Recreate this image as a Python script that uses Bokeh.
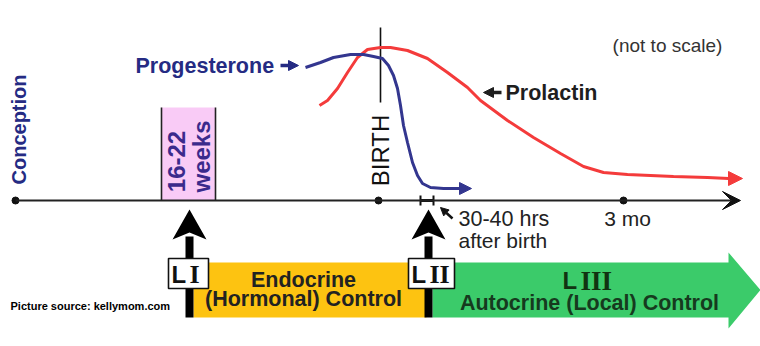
from math import pi
from bokeh.plotting import figure
from bokeh.models import Range1d, Arrow, NormalHead, VeeHead
from bokeh.core.properties import value
from bokeh.embed import file_html
from bokeh.resources import INLINE

W, H = 760, 346

# ---- data (pixel units: x right, y down) ----
# timeline milestones
milestone_names = ["Conception", "BIRTH", "3 mo"]
milestone_x = [15, 378, 623]
timeline_y = 200
timeline_end_x = 740

# Progesterone curve
prog_x = [305, 320, 333, 350, 363, 373, 382, 388, 393, 397, 400, 403, 407, 412, 417, 422, 430, 443, 462]
prog_y = [67, 62, 57, 54, 54, 56, 58, 65, 75, 88, 105, 125, 142, 162, 175, 183, 187, 188, 188]
prog_tip = (471, 188)

# Prolactin curve
prol_x = [319, 327, 337, 347, 357, 367, 380, 390, 407, 427, 447, 467, 480, 507, 533, 560, 583, 603, 627, 673, 707, 728]
prol_y = [105, 100, 88, 72, 57, 49, 47, 47, 50, 58, 72, 87, 100, 120, 137, 153, 166, 172, 174, 176, 177, 178]
prol_tip = (742, 178)

# window "16-22 weeks"
window_x = (161, 215)
window_top = 107

# 30-40 hrs marker
lact_marker_x = (420, 433)

# bands
band_top, band_bottom = 262, 317
endo_x = (193, 426)
auto_x = (432, 728)
auto_head = (252, 760, 328)

# stage arrows (LI, LII)
stage_x = [189, 428]
stage_labels = ["I", "II"]
stage_box_x = [(168, 208), (408, 454)]
stage_box_y = (258, 288)

NAVY = "#252B83"
CURVE_NAVY = "#33368F"
RED = "#F43B3B"
DARK = "#1E1E1E"


def Y(v):
    return H - v


p = figure(width=W, height=H, x_range=Range1d(0, W), y_range=Range1d(0, H),
           output_backend="svg", toolbar_location=None, min_border=0)
p.axis.visible = False
p.xgrid.visible = False
p.ygrid.visible = False
p.outline_line_color = None
p.background_fill_color = "white"
p.border_fill_color = "white"


def txt(x, y, s, size, color, style="normal", font="Liberation Sans", align="center", angle=0.0):
    p.text(x=[x], y=[Y(y)], text=[s], text_font=value(font), text_font_size=f"{size}px",
           text_font_style=style, text_color=color, text_align=align,
           text_baseline="middle", angle=angle)


# pink window
p.quad(left=[window_x[0]], right=[window_x[1]], top=[Y(window_top)], bottom=[Y(timeline_y)],
       fill_color="#F9CBF6", line_color=None)
p.segment(x0=list(window_x), y0=[Y(window_top)] * 2, x1=list(window_x), y1=[Y(timeline_y)] * 2,
          line_color="#222222", line_width=1.6)
txt(176, 161, "16-22", 24, "#3B2A8C", "bold", angle=pi / 2)
txt(201, 156, "weeks", 24, "#3B2A8C", "bold", angle=pi / 2)

# timeline
p.add_layout(Arrow(end=VeeHead(size=18, fill_color="#111111", line_color="#111111"),
                   x_start=milestone_x[0], y_start=Y(timeline_y), x_end=timeline_end_x, y_end=Y(timeline_y),
                   line_color="#222222", line_width=1.8))
p.scatter(x=milestone_x, y=[Y(timeline_y)] * 3, size=7, color="#111111")

# BIRTH line
p.segment(x0=[380], y0=[Y(27)], x1=[380], y1=[Y(102)], line_color="#111111", line_width=1.6)
txt(380, 150, milestone_names[1], 24, "#111111", angle=pi / 2)
txt(18, 129, milestone_names[0], 20, NAVY, "bold", angle=pi / 2)

# curves
p.line(x=prol_x, y=[Y(v) for v in prol_y], line_color=RED, line_width=3)
p.add_layout(Arrow(end=NormalHead(size=14, fill_color=RED, line_color=RED),
                   x_start=prol_x[-1], y_start=Y(prol_y[-1]), x_end=prol_tip[0], y_end=Y(prol_tip[1]),
                   line_color=RED, line_width=3))
p.line(x=prog_x, y=[Y(v) for v in prog_y], line_color=CURVE_NAVY, line_width=3)
p.add_layout(Arrow(end=NormalHead(size=12, fill_color=CURVE_NAVY, line_color=CURVE_NAVY),
                   x_start=prog_x[-1], y_start=Y(prog_y[-1]), x_end=prog_tip[0], y_end=Y(prog_tip[1]),
                   line_color=CURVE_NAVY, line_width=3))

# curve labels
txt(135, 65, "Progesterone", 21.5, NAVY, "bold", align="left")
p.add_layout(Arrow(end=NormalHead(size=10, fill_color=NAVY, line_color=NAVY),
                   x_start=280, y_start=Y(65), x_end=298, y_end=Y(65), line_color=NAVY, line_width=3.5))
txt(505, 92, "Prolactin", 21.5, DARK, "bold", align="left")
p.add_layout(Arrow(end=NormalHead(size=10, fill_color=DARK, line_color=DARK),
                   x_start=501, y_start=Y(92), x_end=483, y_end=Y(92), line_color=DARK, line_width=3.5))
txt(667, 45, "(not to scale)", 19, "#333333")

# 30-40 hrs marker
p.segment(x0=[lact_marker_x[0]], y0=[Y(timeline_y)], x1=[lact_marker_x[1]], y1=[Y(timeline_y)],
          line_color="#111111", line_width=3)
p.segment(x0=list(lact_marker_x), y0=[Y(195)] * 2, x1=list(lact_marker_x), y1=[Y(205)] * 2,
          line_color="#111111", line_width=2)
p.add_layout(Arrow(end=NormalHead(size=8, fill_color="#111111", line_color="#111111"),
                   x_start=452, y_start=Y(218), x_end=440, y_end=Y(207), line_color="#111111", line_width=2.5))
txt(458, 218, "30-40 hrs", 21.5, "#222222", align="left")
txt(458, 240, "after birth", 21, "#222222", align="left")
txt(627, 218, milestone_names[2], 21, "#222222")

# bands
p.quad(left=[endo_x[0]], right=[endo_x[1]], top=[Y(band_top)], bottom=[Y(band_bottom)],
       fill_color="#FDC311", line_color=None)
gx = [auto_x[0], auto_x[1], auto_x[1], auto_head[1], auto_x[1], auto_x[1], auto_x[0]]
gy = [band_top, band_top, auto_head[0], (band_top + band_bottom) / 2, auto_head[2], band_bottom, band_bottom]
p.patch(x=gx, y=[Y(v) for v in gy], fill_color="#3BCB6A", line_color=None)

# stage arrows
for sx in stage_x:
    p.quad(left=[sx - 4], right=[sx + 4], top=[Y(236)], bottom=[Y(band_bottom)], fill_color="#000000", line_color=None)
p.patches(xs=[[sx - 17, sx, sx + 17, sx] for sx in stage_x],
          ys=[[Y(239), Y(209), Y(239), Y(232)] for sx in stage_x],
          fill_color="#000000", line_color=None)
for (bx0, bx1), lab in zip(stage_box_x, stage_labels):
    p.quad(left=[bx0], right=[bx1], top=[Y(stage_box_y[0])], bottom=[Y(stage_box_y[1])],
           fill_color="white", line_color="#111111", line_width=1.6)
    txt(bx0 + 3, 274, "L", 24, "#111111", "bold", align="left")
    txt(bx0 + 21, 274, lab, 26, "#111111", "bold", font="Liberation Serif", align="left")

# band texts
txt(303, 279, "Endocrine", 21.5, "#222222", "bold")
txt(303, 298, "(Hormonal) Control", 21.5, "#222222", "bold")
txt(562, 280, "L", 24, "#113311", "bold", align="left")
txt(580, 280, "III", 27, "#113311", "bold", font="Liberation Serif", align="left")
txt(589, 302, "Autocrine (Local) Control", 21.5, "#163A1E", "bold")

txt(10, 305, "Picture source: kellymom.com", 11, "#000000", "bold", align="left")

open("out.html", "w").write(file_html(p, INLINE))
